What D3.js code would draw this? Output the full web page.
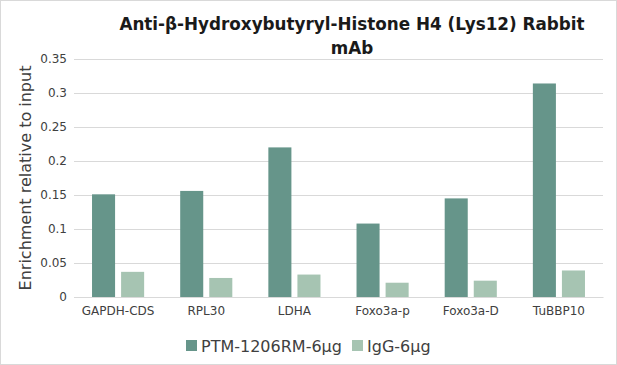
<!DOCTYPE html>
<html><head><meta charset="utf-8">
<script src="https://cdn.jsdelivr.net/npm/d3@7"></script>
<style>body{margin:0;background:#fff}svg{display:block}text{font-family:"DejaVu Sans",Verdana,sans-serif}</style>
</head><body>
<script>
const categories = ["GAPDH-CDS","RPL30","LDHA","Foxo3a-p","Foxo3a-D","TuBBP10"];
const seriesNames = ["PTM-1206RM-6μg","IgG-6μg"];
const ptmValues = [0.151,0.156,0.220,0.108,0.145,0.314];
const iggValues = [0.037,0.028,0.033,0.021,0.024,0.039];
const yTicks = [0,0.05,0.1,0.15,0.2,0.25,0.3,0.35];
const colors = ["#66958a","#a6c4b2"];

const W=617,H=365;
const m={left:74,right:14,top:59,bottom:68};
const svg=d3.select("body").append("svg").attr("width",W).attr("height",H);
svg.append("rect").attr("x",0.5).attr("y",0.5).attr("width",W-1).attr("height",H-1).attr("fill","#fff").attr("stroke","#d9d9d9");

const x=d3.scaleBand().domain(categories).range([m.left,W-m.right]);
const x1=d3.scaleBand().domain(seriesNames).range([0,x.bandwidth()]).paddingInner(0.207).paddingOuter(0.62);
const y=d3.scaleLinear().domain([0,0.35]).range([H-m.bottom,m.top]);

svg.append("g").selectAll("line").data(yTicks).join("line")
  .attr("x1",m.left).attr("x2",W-m.right).attr("y1",d=>y(d)+0.5).attr("y2",d=>y(d)+0.5)
  .attr("stroke","#d9d9d9").attr("stroke-width",1);

const yAxis=svg.append("g").attr("transform",`translate(67,0)`)
  .call(d3.axisLeft(y).tickValues(yTicks).tickSize(0).tickPadding(0).tickFormat(d=>String(+d.toFixed(2))));
yAxis.select(".domain").remove();
yAxis.selectAll("text").attr("font-size",12).attr("fill","#404040");

const data=categories.map((c,i)=>({c,vals:[ptmValues[i],iggValues[i]]}));
const g=svg.append("g").selectAll("g").data(data).join("g").attr("transform",d=>`translate(${x(d.c)},0)`);
g.selectAll("rect").data(d=>d.vals.map((v,j)=>({s:seriesNames[j],v,j}))).join("rect")
  .attr("x",d=>x1(d.s)).attr("width",x1.bandwidth())
  .attr("y",d=>y(d.v)).attr("height",d=>y(0)-y(d.v)).attr("fill",d=>colors[d.j]);

const xAxis=svg.append("g").attr("transform",`translate(0,${y(0)})`).call(d3.axisBottom(x).tickSize(0).tickPadding(9));
xAxis.select(".domain").attr("stroke","#d9d9d9");
xAxis.selectAll("text").attr("font-size",12).attr("fill","#404040");

svg.append("text").attr("transform",`translate(31,${(m.top+H-m.bottom)/2}) rotate(-90)`)
  .attr("text-anchor","middle").attr("font-size",16).attr("fill","#404040").text("Enrichment relative to input");

const title=svg.append("text").attr("text-anchor","middle").attr("font-size",16.8).attr("font-weight","bold").attr("fill","#1a1a1a");
title.append("tspan").attr("x",352).attr("y",30).text("Anti-β-Hydroxybutyryl-Histone H4 (Lys12) Rabbit");
title.append("tspan").attr("x",352).attr("y",54).text("mAb");

const leg=svg.append("g");
const legX=[186,352];
seriesNames.forEach((s,i)=>{
  leg.append("rect").attr("x",legX[i]).attr("y",340).attr("width",11).attr("height",11).attr("fill",colors[i]);
  leg.append("text").attr("x",legX[i]+15).attr("y",352).attr("font-size",16).attr("fill","#404040").text(s);
});
</script>
</body></html>
